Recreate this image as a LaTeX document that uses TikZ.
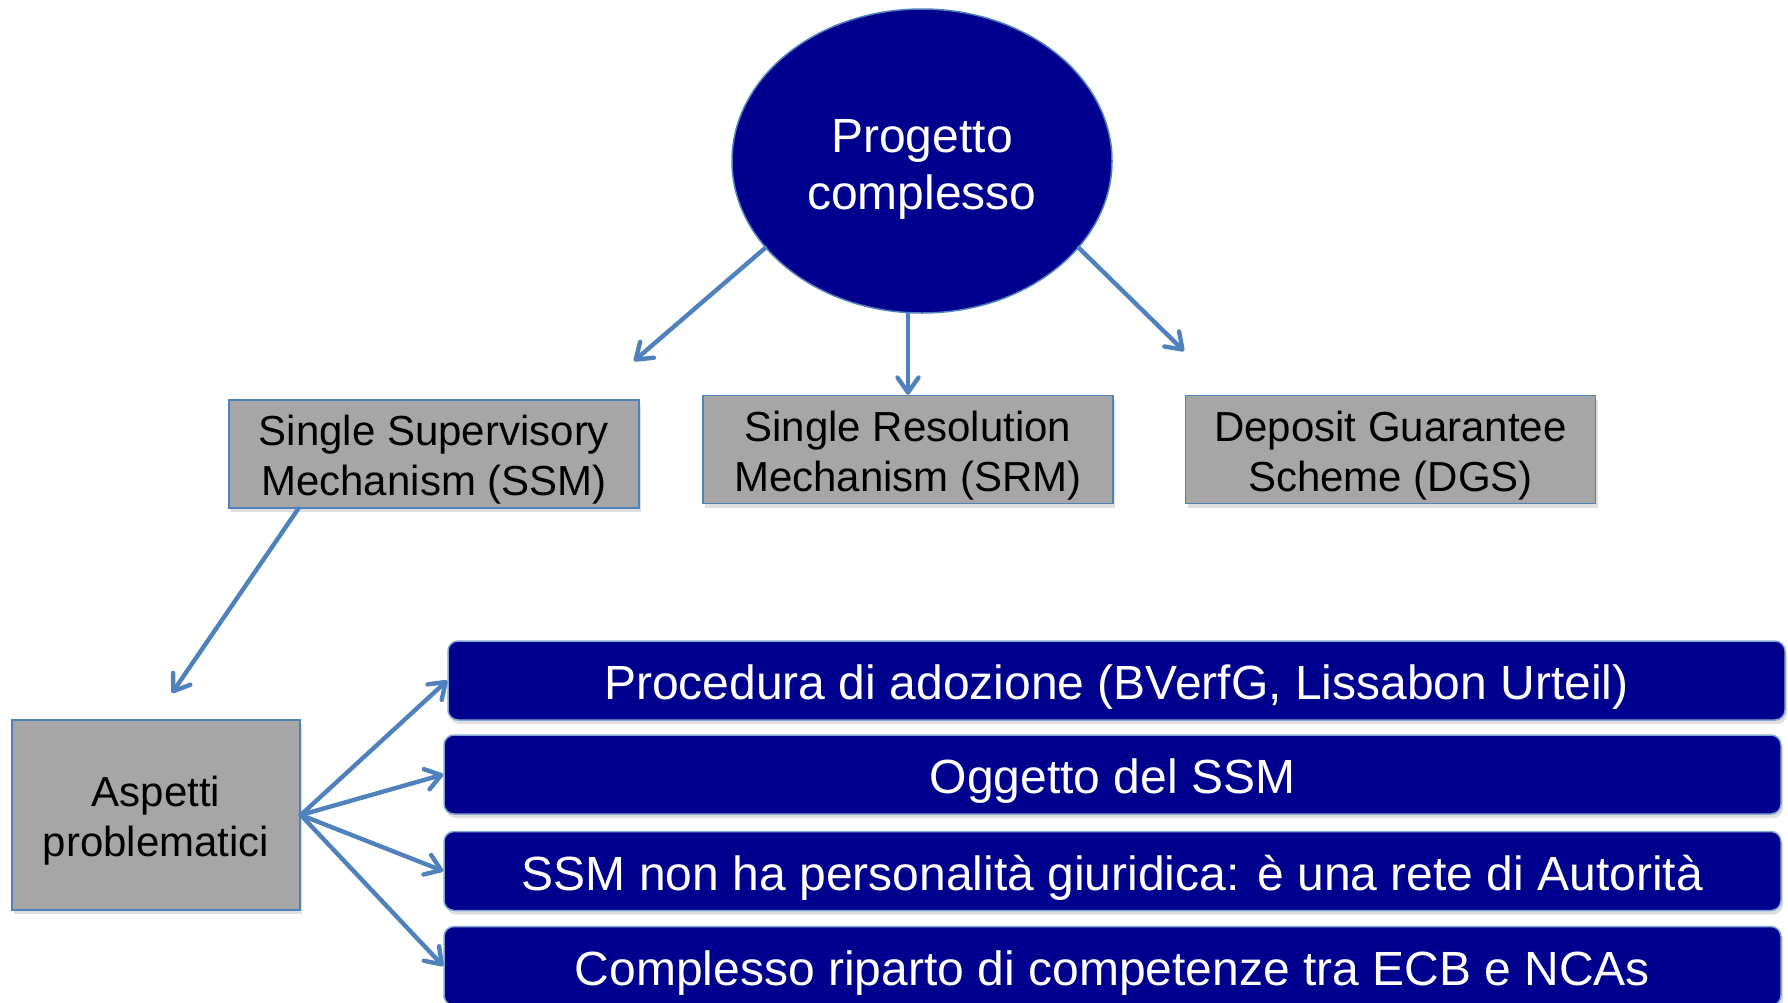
\documentclass[tikz,border=0pt]{standalone}
\usepackage{fontspec}
\setmainfont{Liberation Sans}
\usetikzlibrary{arrows.meta,shapes.geometric,shadows}
\definecolor{navy}{RGB}{0,0,142}
\definecolor{linkblue}{RGB}{79,129,189}
\definecolor{boxgray}{RGB}{166,166,166}
\newcommand\boxstrut{\rule{0pt}{21pt}}

\begin{document}
\begin{tikzpicture}[x=0.5pt,y=-0.5pt,
    link/.style={draw=linkblue,line width=2.2pt,line cap=round,
        -{Straight Barb[length=7.5pt,width=10.5pt,round]}},
    greybox/.style={draw=linkblue,fill=boxgray,line width=0.75pt,align=center,inner sep=0pt,
        minimum width=205pt,minimum height=54pt,font=\fontsize{21}{25}\selectfont,
        drop shadow={opacity=0.25,shadow xshift=1pt,shadow yshift=-2pt}},
    bar/.style={draw=linkblue!70,fill=navy,line width=0.75pt,rounded corners=5pt,text=white,
        minimum width=668.5pt,minimum height=39.5pt,inner sep=0pt,font=\fontsize{24}{28}\selectfont,
        text height=23pt,text depth=4pt,
        drop shadow={opacity=0.25,shadow xshift=1pt,shadow yshift=-2pt}}]
    \clip (0,0) rectangle (1788,1002);

    \node[ellipse,draw=linkblue,fill=navy,line width=0.75pt,text=white,align=center,
        minimum width=190pt,minimum height=152pt,inner sep=0pt,
        font=\fontsize{24}{28.5}\selectfont] (pc) at (922,161) {\rule{0pt}{25pt}Progetto\\complesso};

    \node[greybox] (ssm) at (434,454) {\boxstrut Single Supervisory\\Mechanism (SSM)};
    \node[greybox] (srm) at (908,449.5) {\boxstrut Single Resolution\\Mechanism (SRM)};
    \node[greybox] (dgs) at (1390.5,449.5) {\boxstrut Deposit Guarantee\\Scheme (DGS)};
    \node[greybox,minimum width=144pt,minimum height=95pt] (asp) at (156,815) {\boxstrut Aspetti\\problematici};

    \node[bar] (proc) at (1116.5,680.5) {Procedura di adozione (BVerfG, Lissabon Urteil)};
    \node[bar] (ogg) at (1112.5,774.5) {Oggetto del SSM};
    \node[bar] (pers) at (1112.5,871) {SSM non ha personalità giuridica: è una rete di Autorità};
    \node[bar] (comp) at (1112.5,966) {Complesso riparto di competenze tra ECB e NCAs};

    \coordinate (ssmtip) at (634,361);
    \coordinate (dgstip) at (1184,351);
    \coordinate (asptip) at (172,693);

    \draw[link] (pc.209) -- (ssmtip);
    \draw[link] (pc.south -| srm) -- (srm.north);
    \draw[link] (pc.331) -- (dgstip);
    \draw[link] ([xshift=35pt]ssm.south west) -- (asptip);
    \foreach \b in {proc,ogg,pers,comp}
        \draw[link] (asp.east) -- (\b.west);
\end{tikzpicture}
\end{document}
